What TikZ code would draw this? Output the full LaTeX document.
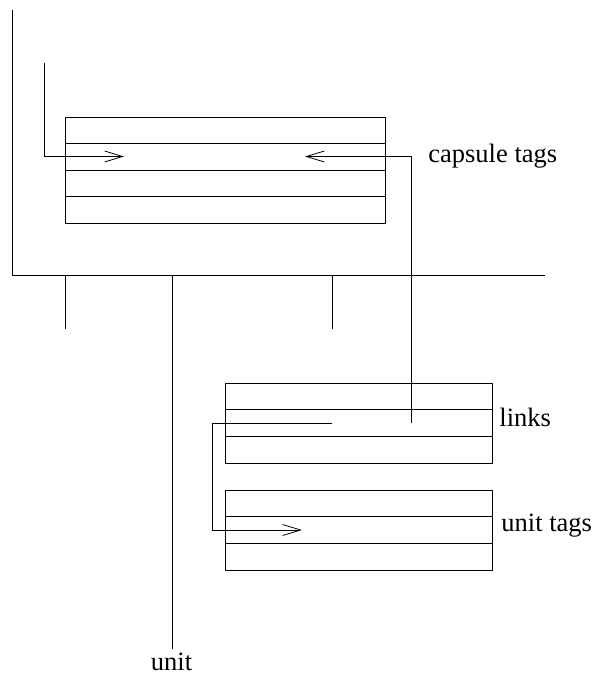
\documentclass[tikz,border=0pt]{standalone}
\usepackage{fontspec}
\setmainfont{Liberation Serif}
\usetikzlibrary{calc,arrows.meta}
\begin{document}
\begin{tikzpicture}[x=1pt,y=-1pt,line width=0.8pt,
  box/.style={draw,rectangle,inner sep=0pt,outer sep=0pt},
  bigbox/.style={box,minimum width=320pt,minimum height=106pt},
  smallbox/.style={box,minimum width=267pt,minimum height=80pt},
  rowline/.style={line width=1pt},
  lbl/.style={anchor=base west,inner sep=0pt,font=\fontsize{26.5}{30}\selectfont},
  arr/.style={-{Straight Barb[length=18pt,width=11pt,line width=0.8pt]}}]
\useasboundingbox (0,0) rectangle (595,677);
% frame lines
\coordinate (ftop) at (12,10);
\coordinate (fcorner) at (12,275.5);
\coordinate (fright) at (545,275.5);
\coordinate (t1a) at (65,275.5);
\coordinate (t1b) at (65,329);
\coordinate (t2a) at (332,275.5);
\coordinate (t2b) at (332,329);
\coordinate (ua) at (172,275.5);
\coordinate (ub) at (172,649);
\draw (ftop) -- (fcorner) -- (fright);
\draw (t1a) -- (t1b);
\draw (t2a) -- (t2b);
\draw (ua) -- (ub);
\node[lbl,anchor=base] (unitlbl) at (171.5,670) {unit};
% boxes
\node[bigbox] (cap) at (225,170) {};
\node[smallbox] (links) at (358.5,423) {};
\node[smallbox] (utags) at (358.5,530) {};
\foreach \b/\n in {cap/4,links/3,utags/3}{
  \foreach \i in {1,...,\numexpr\n-1\relax}{
    \draw[rowline] ($(\b.north west)!{\i/\n}!(\b.south west)$) -- ($(\b.north east)!{\i/\n}!(\b.south east)$);
  }
}
% labels
\node[lbl] (capl) at (428,162) {capsule tags};
\node[lbl] (linksl) at (499,426) {links};
\node[lbl] (utagsl) at (501,531) {unit tags};
% connectors
\coordinate (a1s) at (44,63);
\coordinate (a1e) at (124,156.5);
\draw[arr] (a1s) |- (a1e);
\coordinate (a2s) at (411,423);
\coordinate (a2e) at (305,156.5);
\draw[arr] (a2s) |- (a2e);
\coordinate (a3s) at (332,423);
\coordinate (a3c) at (212,423);
\coordinate (a3e) at (302,530);
\draw[arr] (a3s) -- (a3c) |- (a3e);
\end{tikzpicture}
\end{document}
